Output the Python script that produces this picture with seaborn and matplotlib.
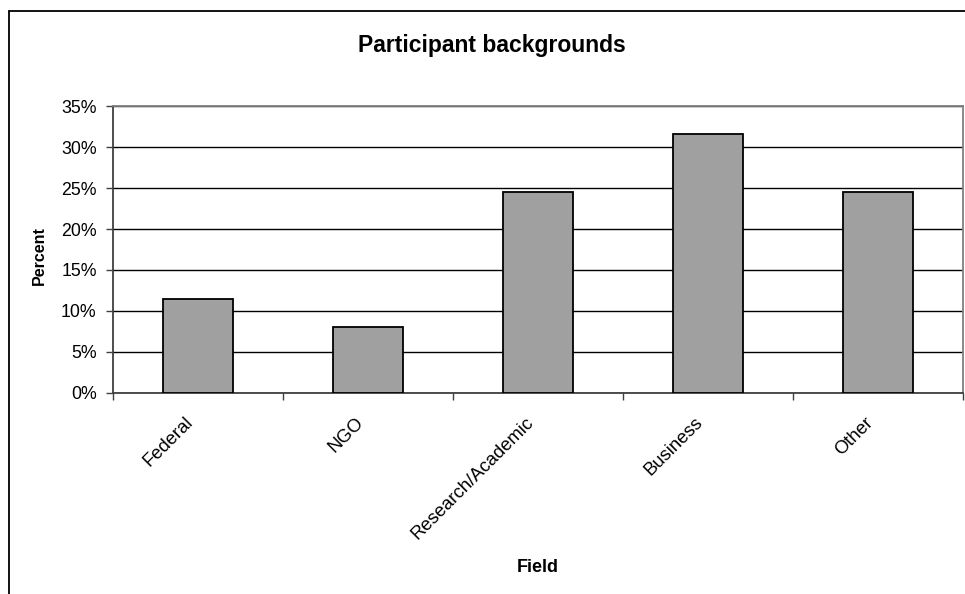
import matplotlib
matplotlib.use("Agg")
import matplotlib.pyplot as plt
import matplotlib.transforms as mtransforms
import seaborn as sns
import pandas as pd
import numpy as np
from matplotlib.lines import Line2D
from matplotlib.ticker import FixedLocator, PercentFormatter

categories = ["Federal", "NGO", "Research/Academic", "Business", "Other"]
values = [0.115, 0.080, 0.245, 0.316, 0.245]
y_ticks = [0.0, 0.05, 0.10, 0.15, 0.20, 0.25, 0.30, 0.35]

sns.set_theme(style="white")
plt.rcParams["font.family"] = ["Liberation Sans", "DejaVu Sans"]
plt.rcParams["text.color"] = "black"
plt.rcParams["axes.labelcolor"] = "black"
plt.rcParams["xtick.color"] = "black"
plt.rcParams["ytick.color"] = "black"

W, H = 965, 594
fig = plt.figure(figsize=(W / 100, H / 100), dpi=100)
fig.patch.set_facecolor("white")

left, right, bottom, top = 112.7, 962.7, 392.7, 106.4
ax = fig.add_axes([left / W, 1 - bottom / H, (right - left) / W, (bottom - top) / H])

df = pd.DataFrame({"Field": categories, "Percent": values})
sns.barplot(data=df, x="Field", y="Percent", color="#A0A0A0", saturation=1,
            edgecolor="black", linewidth=1.3, width=0.41, ax=ax, zorder=3)

ax.set_xlim(-0.5, len(categories) - 0.5)
ax.set_ylim(0, 0.35)
ax.set_yticks(y_ticks)
ax.yaxis.set_major_formatter(PercentFormatter(1.0, decimals=0))
ax.yaxis.grid(True, color="black", linewidth=1.0, zorder=0)
ax.set_axisbelow(True)

ax.tick_params(axis="y", which="major", direction="out", length=5, width=1,
               color="#404040", labelsize=12.8, pad=6.5, left=True, labelcolor="black")
ax.tick_params(axis="x", which="major", length=0, labelsize=13.3, pad=8, labelcolor="black")
ax.xaxis.set_minor_locator(FixedLocator(np.arange(-0.5, len(categories), 1.0)))
ax.tick_params(axis="x", which="minor", direction="out", length=5, width=1,
               color="#404040", bottom=True)

offset = mtransforms.ScaledTranslation(-13 / 100, -10 / 100, fig.dpi_scale_trans)
for lbl in ax.get_xticklabels():
    lbl.set_rotation(45)
    lbl.set_ha("right")
    lbl.set_va("top")
    lbl.set_rotation_mode("anchor")
    lbl.set_transform(lbl.get_transform() + offset)

for side in ["left", "bottom"]:
    ax.spines[side].set_color("#404040")
    ax.spines[side].set_linewidth(1.3)
for side in ["top", "right"]:
    ax.spines[side].set_color("#808080")
    ax.spines[side].set_linewidth(1.3)

ax.set_xlabel("")
ax.set_ylabel("")
fig.text(39 / W, 1 - 255.5 / H, "Percent", rotation=90, ha="center", va="center",
         fontsize=11.5, fontweight="bold")
fig.text(537.7 / W, 1 - 572.5 / H, "Field", ha="center", va="baseline",
         fontsize=13, fontweight="bold")
fig.text(492 / W, 1 - 52 / H, "Participant backgrounds", ha="center", va="baseline",
         fontsize=16.5, fontweight="bold")

# outer chart border (cropped at right/bottom)
fig.add_artist(Line2D([9 / W, 9 / W], [1 - 11 / H, 0], transform=fig.transFigure,
                      color="black", linewidth=1.3))
fig.add_artist(Line2D([9 / W, 1], [1 - 11 / H, 1 - 11 / H], transform=fig.transFigure,
                      color="black", linewidth=1.3))

fig.savefig("out.png", dpi=100, facecolor="white")
